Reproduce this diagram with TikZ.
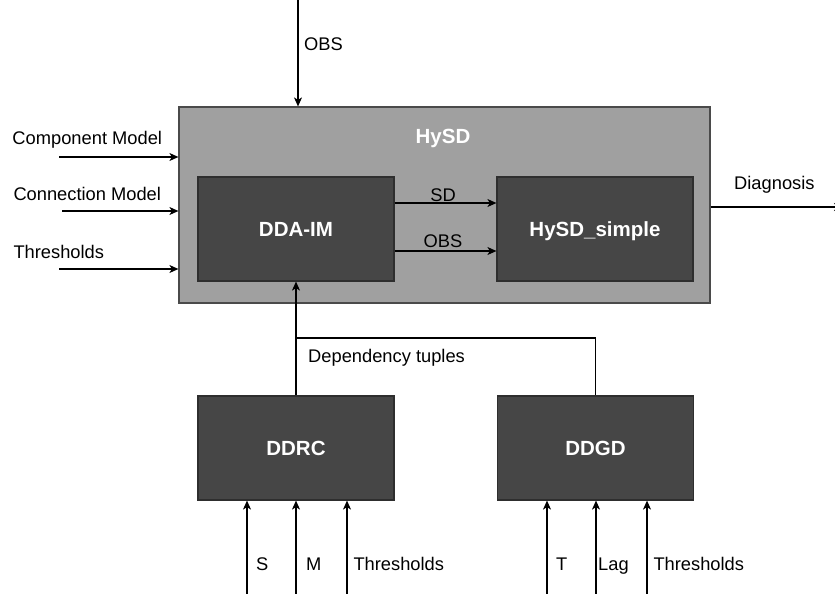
\documentclass[tikz,border=0pt]{standalone}
\usepackage{fontspec}
\setmainfont{Liberation Sans}
\usetikzlibrary{arrows.meta}
\definecolor{outerfill}{HTML}{A0A0A0}
\definecolor{outerline}{HTML}{4A4A4A}
\definecolor{innerfill}{HTML}{464646}
\definecolor{innerline}{HTML}{2E2E2E}
\begin{document}
\begin{tikzpicture}[x=1pt,y=-1pt,
  lbl/.style={inner sep=0pt, font=\fontsize{18.3}{22}\selectfont},
  blk/.style={draw=innerline, fill=innerfill, line width=1.2pt,
    minimum width=196pt, minimum height=104pt, inner sep=0pt,
    text=white, text height=14.7pt, text depth=0pt,
    font=\fontsize{20.5}{24}\selectfont\bfseries},
  flow/.style={line width=1.2pt, -{Stealth[length=9pt,width=8pt,inset=2.5pt]}},
  wire/.style={line width=1.2pt}]
\useasboundingbox (0,0) rectangle (835,594);

% container and its blocks
\node[draw=outerline, fill=outerfill, line width=1.2pt, inner sep=0pt,
      minimum width=531pt, minimum height=196pt] (hysd) at (444.5,205) {};
\node[lbl, anchor=base, text=white, font=\fontsize{20.5}{24}\selectfont\bfseries]
      (hysdlbl) at (443,143) {HySD};
\node[blk] (ddaim) at (296,229) {DDA-IM};
\node[blk] (hsimple) at (595,229) {HySD\_simple};
\node[blk] (ddrc) at (296,448) {DDRC};
\node[blk] (ddgd) at (595.5,448) {DDGD};

% free ends of the input and output connectors
\coordinate (obsin) at (298,0);
\coordinate (cmin) at (59,157);
\coordinate (cnin) at (62,211);
\coordinate (thin) at (59,269);
\coordinate (diagout) at (843,207);
\coordinate (join) at (296,338);
\coordinate (sin) at (247,594);
\coordinate (min) at (296,594);
\coordinate (t1in) at (347,594);
\coordinate (tin) at (547,594);
\coordinate (lagin) at (596,594);
\coordinate (t2in) at (647,594);

% inputs into HySD
\draw[flow] (obsin) -- (obsin |- hysd.north);
\draw[flow] (cmin) -- (cmin -| hysd.west);
\draw[flow] (cnin) -- (cnin -| hysd.west);
\draw[flow] (thin) -- (thin -| hysd.west);

% internal flows
\draw[flow] ([yshift=26pt]ddaim.east) -- ([yshift=26pt]hsimple.west);
\draw[flow] ([yshift=-22pt]ddaim.east) -- ([yshift=-22pt]hsimple.west);

% output
\draw[flow] ([yshift=-2pt]hysd.east) -- (diagout);

% dependency tuples
\draw[flow] (ddrc.north) -- (ddaim.south);
\draw[wire] (ddgd.north) |- (join);

% inputs into the lower blocks
\draw[flow] (sin) -- (sin |- ddrc.south);
\draw[flow] (min) -- (min |- ddrc.south);
\draw[flow] (t1in) -- (t1in |- ddrc.south);
\draw[flow] (tin) -- (tin |- ddgd.south);
\draw[flow] (lagin) -- (lagin |- ddgd.south);
\draw[flow] (t2in) -- (t2in |- ddgd.south);

% labels
\node[lbl, anchor=base west] (lobs) at (304,50.5) {OBS};
\node[lbl, anchor=base west] (lcm) at (12.3,144) {Component Model};
\node[lbl, anchor=base west] (lcn) at (13.3,200.5) {Connection Model};
\node[lbl, anchor=base west] (lth) at (13.3,258) {Thresholds};
\node[lbl, anchor=base] (lsd) at (443,201) {SD};
\node[lbl, anchor=base] (lobs2) at (443,247) {OBS};
\node[lbl, anchor=base west] (ldiag) at (734,189) {Diagnosis};
\node[lbl, anchor=base west] (ldep) at (308,362.3) {Dependency tuples};
\node[lbl, anchor=base west] (ls) at (256,570) {S};
\node[lbl, anchor=base west] (lm) at (306,570) {M};
\node[lbl, anchor=base west] (lt1) at (353.3,570) {Thresholds};
\node[lbl, anchor=base west] (lt) at (556,570) {T};
\node[lbl, anchor=base west] (llag) at (598,570) {Lag};
\node[lbl, anchor=base west] (lt2) at (653.3,570) {Thresholds};
\end{tikzpicture}
\end{document}
